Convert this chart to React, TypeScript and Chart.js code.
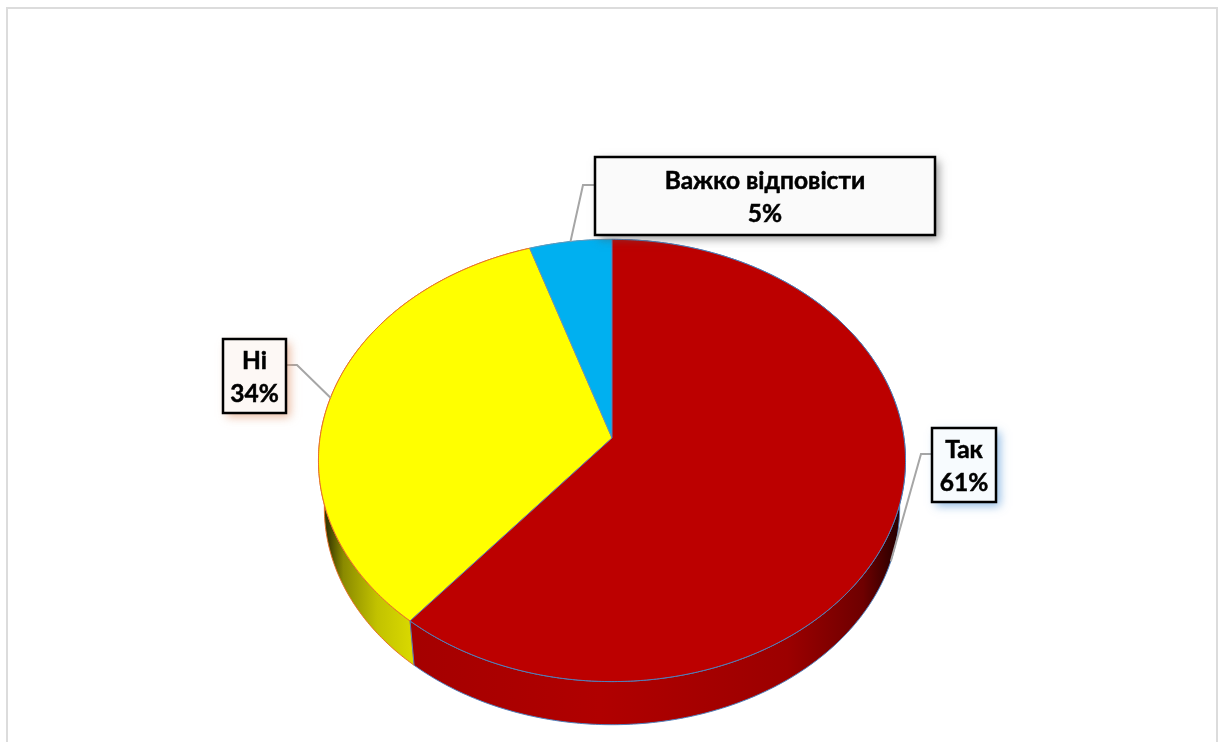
import React, { useEffect, useRef } from "react";
import { Chart, registerables } from "chart.js";

Chart.register(...registerables);

const categories = ["Так", "Ні", "Важко відповісти"];
const shares = [61, 34, 5];
const faceColors = ["#BC0000", "#FFFF00", "#00B0F0"];
const edgeColors = ["#4F81BD", "#E8702A", "#5B9BC0"];

// Horizontal shading of the rim of each slice: [position across the pie, colour].
const rimShades: [number, string][][] = [
  [[0.163, "#a50000"], [0.48, "#b00000"], [0.8, "#9c0000"], [0.93, "#6e0000"], [0.985, "#2c0000"]],
  [[0.013, "#3a3a00"], [0.04, "#8a8a00"], [0.098, "#c2c200"], [0.155, "#d8d800"]],
  [[0, "#0080b0"], [1, "#0080b0"]],
];

// Callout boxes, in category order.
const callouts = [
  { x: 932, y: 428, w: 64, h: 74, fill: "#F7FBFE", shadow: "rgba(110,165,220,0.75)", elbowX: 921, onBase: true },
  { x: 223, y: 339, w: 63, h: 74, fill: "#FDF8F5", shadow: "rgba(225,150,110,0.65)", elbowX: 297, onBase: false },
  { x: 595, y: 157, w: 340, h: 78, fill: "#FAFAFA", shadow: "rgba(90,90,90,0.6)", elbowX: 583, onBase: false },
];

// Perspective of the tilted disc and its lower face.
const TILT = 0.7494;
const VANISH = 0.1016;
const BASE_SCALE = 0.98;
const BASE_DROP = 48;

type Pt = { x: number; y: number };

function topPoint(arc: any, turn: number): Pt {
  const X = Math.sin(turn);
  const Y = Math.cos(turn);
  const w = 1 + VANISH * Y;
  return { x: arc.x + (arc.outerRadius * X) / w, y: arc.y - (arc.outerRadius * TILT * Y) / w };
}

function basePoint(arc: any, turn: number): Pt {
  const p = topPoint(arc, turn);
  return { x: arc.x + BASE_SCALE * (p.x - arc.x), y: arc.y + BASE_DROP + BASE_SCALE * (p.y - arc.y) };
}

function sweep(arc: any): number[] {
  const from = arc.startAngle + Math.PI / 2;
  const to = arc.endAngle + Math.PI / 2;
  const n = Math.max(2, Math.ceil((to - from) / 0.01));
  const out: number[] = [];
  for (let i = 0; i <= n; i++) out.push(from + ((to - from) * i) / n);
  return out;
}

const tiltedPie = {
  id: "tiltedPie",
  beforeDraw(chart: any) {
    const { ctx } = chart;
    ctx.save();
    ctx.fillStyle = "#ffffff";
    ctx.fillRect(0, 0, chart.width, chart.height);
    ctx.fillStyle = "#DCDCDC";
    ctx.fillRect(6, 7, 2, chart.height - 7);
    ctx.fillRect(6, 7, 1212, 2);
    ctx.fillRect(1216, 7, 2, chart.height - 7);
    ctx.restore();
  },
  beforeDatasetDraw(chart: any) {
    const { ctx } = chart;
    const arcs = chart.getDatasetMeta(0).data;
    ctx.save();
    ctx.lineJoin = "round";

    // Rims first, so the top faces cover their far side.
    [2, 1, 0].forEach((i) => {
      const arc = arcs[i];
      const turns = sweep(arc);
      const g = ctx.createLinearGradient(arc.x - arc.outerRadius, 0, arc.x + arc.outerRadius, 0);
      rimShades[i].forEach(([pos, col]) => g.addColorStop(pos, col));
      ctx.beginPath();
      turns.forEach((t, k) => {
        const p = topPoint(arc, t);
        if (k === 0) ctx.moveTo(p.x, p.y);
        else ctx.lineTo(p.x, p.y);
      });
      [...turns].reverse().forEach((t) => {
        const p = basePoint(arc, t);
        ctx.lineTo(p.x, p.y);
      });
      ctx.closePath();
      ctx.fillStyle = g;
      ctx.fill();
      ctx.strokeStyle = arc.options.borderColor;
      ctx.lineWidth = 1;
      ctx.stroke();
    });

    [1, 2, 0].forEach((i) => {
      const arc = arcs[i];
      ctx.beginPath();
      ctx.moveTo(arc.x, arc.y);
      sweep(arc).forEach((t) => {
        const p = topPoint(arc, t);
        ctx.lineTo(p.x, p.y);
      });
      ctx.closePath();
      ctx.fillStyle = arc.options.backgroundColor;
      ctx.fill();
      ctx.strokeStyle = arc.options.borderColor;
      ctx.lineWidth = 1;
      ctx.stroke();
    });
    ctx.restore();
    return false;
  },
  afterDatasetsDraw(chart: any) {
    const { ctx } = chart;
    const arcs = chart.getDatasetMeta(0).data;
    const values = chart.data.datasets[0].data;
    const names = chart.data.labels;
    ctx.save();
    callouts.forEach((c, i) => {
      const arc = arcs[i];
      const mid = (arc.startAngle + arc.endAngle) / 2 + Math.PI / 2;
      const anchor = c.onBase ? basePoint(arc, mid) : topPoint(arc, mid);
      const midY = c.y + c.h / 2;
      const elbowY = midY - 11;
      const side = c.elbowX < c.x ? c.x : c.x + c.w;

      ctx.strokeStyle = "#A6A6A6";
      ctx.lineWidth = 2;
      ctx.beginPath();
      ctx.moveTo(side, elbowY);
      ctx.lineTo(c.elbowX, elbowY);
      ctx.lineTo(anchor.x, anchor.y);
      ctx.stroke();

      ctx.save();
      ctx.shadowColor = c.shadow;
      ctx.shadowBlur = 9;
      ctx.shadowOffsetX = 4;
      ctx.shadowOffsetY = 4;
      ctx.fillStyle = c.fill;
      ctx.fillRect(c.x, c.y, c.w, c.h);
      ctx.restore();
      ctx.strokeStyle = "#000000";
      ctx.lineWidth = 2.5;
      ctx.strokeRect(c.x, c.y, c.w, c.h);

      // A hairline stroke thickens the bold face a little.
      ctx.fillStyle = "#000000";
      ctx.strokeStyle = "#000000";
      ctx.lineWidth = 0.5;
      ctx.textAlign = "center";
      ctx.textBaseline = "alphabetic";
      ctx.font = 'bold 24.5px Lato, "Open Sans", sans-serif';
      const textX = c.x + c.w / 2;
      const first = String(names[i]);
      const second = `${values[i]}%`;
      ctx.fillText(first, textX, midY - 7);
      ctx.strokeText(first, textX, midY - 7);
      ctx.fillText(second, textX, midY + 26);
      ctx.strokeText(second, textX, midY + 26);
    });
    ctx.restore();
  },
};

export default function App() {
  const ref = useRef<HTMLCanvasElement | null>(null);

  useEffect(() => {
    if (!ref.current) return;
    const chart = new Chart(ref.current, {
      type: "pie",
      data: {
        labels: categories,
        datasets: [
          {
            data: shares,
            backgroundColor: faceColors,
            borderColor: edgeColors,
            borderWidth: 1,
          },
        ],
      },
      options: {
        responsive: false,
        animation: false,
        layout: { padding: { left: 319.5, right: 321.5, top: 145.5, bottom: 11.5 } },
        plugins: { legend: { display: false }, tooltip: { enabled: false }, title: { display: false } },
      },
      plugins: [tiltedPie],
    });
    return () => chart.destroy();
  }, []);

  return (
    <div style={{ position: "fixed", left: 0, top: 0, width: 1226, height: 742, overflow: "hidden" }}>
      <canvas ref={ref} width={1226} height={742} style={{ display: "block" }} />
    </div>
  );
}
